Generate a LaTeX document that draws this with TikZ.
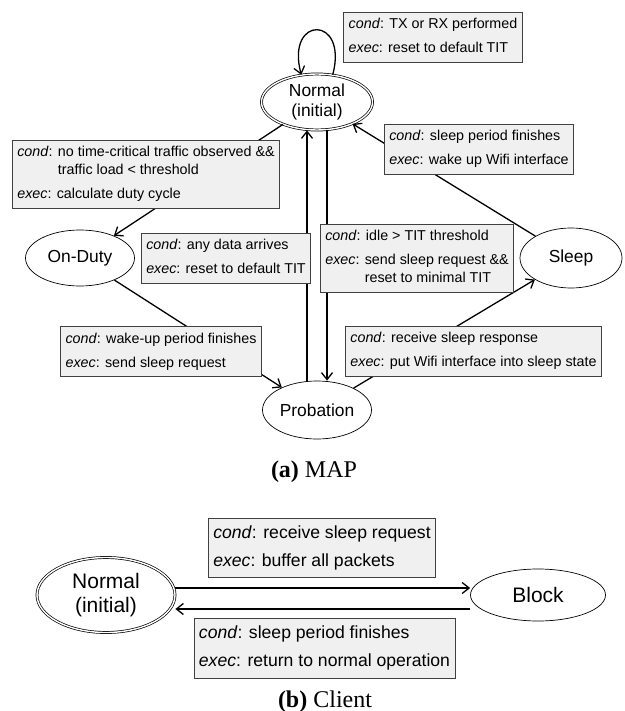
\documentclass[tikz,border=0pt]{standalone}
\usepackage{fontspec}
\setmainfont{Liberation Sans}
\newfontfamily\capfont{Liberation Serif}
\usetikzlibrary{shapes.geometric,arrows.meta}

\newcommand{\cnd}{\textit{cond}: }
\newcommand{\exc}{\textit{exec}: }
\newcommand{\trans}[1]{\begin{tabular}{@{}l@{}}#1\end{tabular}}

\tikzset{
  state/.style={ellipse, draw, line width=0.7pt, inner sep=0pt, align=center,
    font=\fontsize{17.4}{20}\selectfont},
  initstate/.style={state, double, double distance=1.4pt},
  bigstate/.style={font=\fontsize{21}{24}\selectfont},
  cbox/.style={draw=black!75, fill=black!6, line width=0.9pt, inner xsep=5pt,
    inner ysep=4pt, font=\fontsize{14.3}{18}\selectfont},
  bigbox/.style={inner ysep=5pt, font=\fontsize{17.6}{21.5}\selectfont},
  arc/.style={-{Straight Barb[length=7pt,width=11pt]}, line width=1.3pt},
  caption/.style={anchor=base, font=\capfont\fontsize{24}{28}\selectfont}
}

\begin{document}
\begin{tikzpicture}[x=1pt, y=1pt]
  \useasboundingbox (0,0) rectangle (624,-711);

  % States (MAP)
  \node[initstate, minimum width=111, minimum height=56] (normal) at (317,-102) {Normal\\(initial)}; % top
  \node[state, minimum width=109, minimum height=56] (onduty) at (80,-258) {On-Duty};   % left
  \node[state, minimum width=102, minimum height=60] (sleep) at (571,-258) {Sleep};     % right
  \node[state, minimum width=109, minimum height=58] (prob) at (317,-410) {Probation};  % bottom

  % Transitions (MAP)
  \draw[arc] (normal) -- (onduty);
  \draw[arc] (onduty) -- (prob);
  \draw[arc] (prob) -- (sleep);
  \draw[arc] (sleep) -- (normal);
  \draw[arc] ([xshift=-10pt]prob.north) -- ([xshift=-10pt]normal.south);
  \draw[arc] ([xshift=10pt]normal.south) -- ([xshift=10pt]prob.north);
  \draw[arc] (normal.60) .. controls +(75:62) and +(105:62) .. (normal.120);

  % Conditions (MAP)
  \node[cbox] (loopc) at (433,-37) {\trans{\cnd TX or RX performed\\[6pt]\exc reset to default TIT}};
  \node[cbox] (dutyc) at (146,-174) {\trans{\cnd no time-critical traffic observed \&\&\\\hphantom{\cnd}traffic load < threshold\\[6pt]\exc calculate duty cycle}};
  \node[cbox] (wakec) at (479,-149) {\trans{\cnd sleep period finishes\\[6pt]\exc wake up Wifi interface}};
  \node[cbox] (datac) at (226,-258) {\trans{\cnd any data arrives\\[6pt]\exc reset to default TIT}};
  \node[cbox] (idlec) at (417,-258) {\trans{\cnd idle > TIT threshold\\[6pt]\exc send sleep request \&\&\\\hphantom{\exc}reset to minimal TIT}};
  \node[cbox] (periodc) at (161,-351.5) {\trans{\cnd wake-up period finishes\\[6pt]\exc send sleep request}};
  \node[cbox] (respc) at (473.5,-351) {\trans{\cnd receive sleep response\\[6pt]\exc put Wifi interface into sleep state}};

  \node[caption] (capa) at (314,-477) {\textbf{(a)} MAP};

  % States (Client)
  \node[initstate, bigstate, minimum width=138, minimum height=75] (normcl) at (106,-595) {Normal\\(initial)};
  \node[state, bigstate, minimum width=135, minimum height=52] (block) at (538,-595) {Block};

  % Transitions (Client)
  \draw[arc] ([yshift=7pt]normcl.east) -- ([yshift=7pt]block.west);
  \draw[arc] ([yshift=-14pt]block.west) -- ([yshift=-14pt]normcl.east);

  % Conditions (Client)
  \node[cbox, bigbox] (reqc) at (322,-548) {\trans{\cnd receive sleep request\\[6.5pt]\exc buffer all packets}};
  \node[cbox, bigbox] (finc) at (324.5,-648.5) {\trans{\cnd sleep period finishes\\[6.5pt]\exc return to normal operation}};

  \node[caption] (capb) at (325,-707) {\textbf{(b)} Client};
\end{tikzpicture}
\end{document}
